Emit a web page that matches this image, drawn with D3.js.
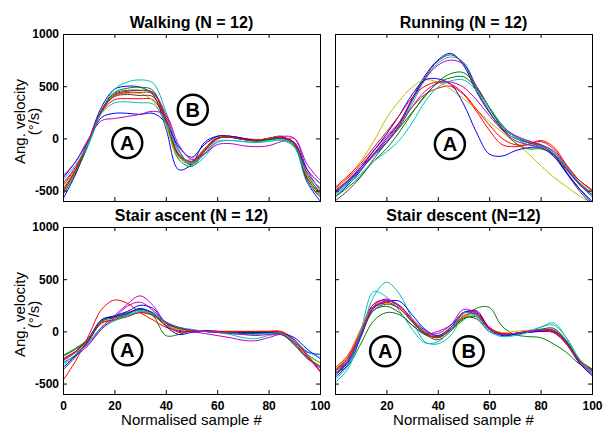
<!DOCTYPE html>
<html>
<head>
<meta charset="utf-8">
<script src="https://cdn.jsdelivr.net/npm/d3@7"></script>
<style>
  body { margin: 0; background: #fff; }
  svg { display: block; font-family: "Liberation Sans", Arial, sans-serif; }
</style>
</head>
<body>
<div id="chart"></div>
<script>
// normalised sample positions (x) shared by every curve
const samples = [0, 5, 10, 15, 20, 25, 30, 35, 40, 45, 50, 55, 60, 65, 70, 75, 80, 85, 90, 95, 100];

// MATLAB default line order, 12 subjects
const lineColours = [
  "#0000ff", "#008000", "#ff0000", "#00bfbf", "#bf00bf", "#bfbf00",
  "#404040", "#0000ff", "#008000", "#ff0000", "#00bfbf", "#bf00bf",
];

const yTicks = [-500, 0, 500, 1000];
const xTicks = [0, 20, 40, 60, 80, 100];

// angular velocity (deg/s), one row per subject
const walking = [
  [-580, -340, -20, 300, 470, 500, 490, 420, 100, -300, -250, -40, 20, 20, 0, -20, 0, 20, -60, -420, -600],
  [-520, -300, -30, 270, 440, 480, 490, 460, 150, -200, -270, -130, 0, 10, -10, -20, 0, 10, -80, -380, -540],
  [-450, -280, -40, 250, 370, 380, 380, 370, 170, -150, -220, -100, 10, 20, 0, -10, -10, 10, -40, -330, -480],
  [-500, -320, -60, 260, 470, 540, 560, 530, 260, -100, -260, -180, -30, -20, -30, -40, -20, -10, -80, -420, -560],
  [-430, -270, -20, 260, 420, 450, 460, 440, 230, -120, -240, -150, -10, 20, 0, -20, 0, 20, 0, -300, -500],
  [-470, -290, -30, 260, 410, 430, 430, 360, 120, -180, -200, -60, 10, 20, -10, -20, 0, 10, -60, -360, -510],
  [-540, -330, -40, 260, 400, 420, 410, 400, 170, -170, -250, -120, 0, 10, -10, -20, -10, 10, -60, -400, -560],
  [-380, -220, -20, 200, 240, 240, 230, 240, 150, -80, -180, -60, 20, 20, 0, -20, -10, 0, -40, -300, -430],
  [-490, -300, -20, 270, 430, 460, 460, 440, 190, -160, -230, -120, 0, 10, -10, -30, -10, 0, -50, -350, -520],
  [-510, -300, -20, 260, 410, 440, 440, 430, 200, -150, -220, -110, 0, 10, -10, -20, 0, 10, -50, -380, -530],
  [-400, -250, -40, 240, 340, 350, 340, 330, 150, -120, -240, -150, -40, -20, -30, -40, -30, -20, -80, -350, -470],
  [-360, -220, 0, 170, 190, 210, 230, 260, 220, -60, -200, -150, -60, -50, -70, -80, -70, -30, 0, -250, -400],
];

const running = [
  [-560, -450, -310, -150, 0, 150, 380, 600, 750, 815, 700, 450, 250, 100, 20, -30, -60, -150, -320, -480, -620],
  [-540, -430, -300, -150, -40, 100, 250, 400, 540, 620, 630, 500, 300, 130, 20, -40, -80, -160, -300, -440, -560],
  [-480, -380, -260, -120, 20, 150, 300, 420, 480, 500, 420, 260, 80, -60, -80, -60, -20, -80, -250, -400, -500],
  [-520, -420, -300, -170, -50, 120, 330, 560, 720, 780, 730, 500, 290, 120, 20, -30, -60, -130, -280, -430, -560],
  [-500, -400, -280, -150, -20, 150, 370, 570, 700, 750, 710, 500, 300, 120, 30, -20, -60, -120, -270, -420, -540],
  [-490, -370, -220, -30, 190, 360, 490, 560, 540, 470, 380, 280, 160, 60, -40, -140, -260, -370, -460, -550, -620],
  [-600, -500, -370, -200, -40, 130, 360, 580, 740, 800, 720, 470, 260, 90, 0, -40, -70, -150, -330, -500, -640],
  [-510, -410, -280, -120, 40, 220, 420, 560, 570, 520, 330, 60, -150, -170, -120, -90, -90, -170, -330, -480, -600],
  [-560, -470, -360, -220, -100, 60, 240, 410, 530, 580, 590, 480, 290, 100, -40, -100, -100, -150, -290, -430, -540],
  [-470, -360, -240, -90, 60, 220, 390, 500, 540, 520, 430, 280, 130, 0, -60, -60, -30, -100, -260, -400, -490],
  [-530, -440, -340, -220, -130, -20, 150, 350, 490, 550, 560, 460, 300, 130, 10, -60, -80, -130, -270, -420, -520],
  [-520, -410, -300, -160, -40, 110, 300, 450, 530, 540, 490, 370, 220, 80, -20, -60, -90, -150, -290, -440, -540],
];

const stairAscent = [
  [-280, -190, -60, 110, 150, 190, 250, 220, 80, 0, 0, 10, 0, -10, -20, -20, -20, -30, -110, -200, -220],
  [-230, -160, -70, 80, 110, 160, 210, 150, -40, -30, 10, 0, 0, 0, 0, 0, 0, -10, -90, -220, -300],
  [-470, -280, -40, 210, 300, 270, 180, 110, 40, 10, 0, 0, 0, -10, -10, -10, 0, 0, -80, -220, -390],
  [-330, -220, -100, 40, 110, 160, 200, 160, 60, 20, 10, 0, -10, -30, -60, -70, -40, -30, -100, -220, -300],
  [-300, -230, -130, 40, 150, 260, 340, 250, 80, 30, 0, -20, -40, -60, -85, -90, -60, -30, -80, -240, -380],
  [-290, -200, -80, 80, 120, 170, 210, 170, 60, 20, 10, 0, -10, -10, -10, -10, -10, -20, -100, -230, -300],
  [-370, -240, -90, 90, 140, 180, 210, 180, 80, 30, 10, 0, 0, -10, -10, -10, -10, -20, -130, -260, -340],
  [-350, -230, -90, 110, 140, 170, 220, 170, 50, -30, -10, 0, -10, -10, -10, -10, -10, -20, -60, -170, -260],
  [-240, -170, -80, 100, 130, 150, 180, 160, 80, 30, 10, 0, -10, -10, -20, -20, -20, -30, -120, -250, -330],
  [-260, -190, -80, 80, 110, 140, 180, 150, 60, -10, 0, 0, 0, 0, 0, 0, 0, -10, -90, -230, -370],
  [-310, -220, -110, 30, 100, 150, 190, 170, 90, 40, 20, 0, -10, -20, -30, -30, -20, -20, -90, -190, -250],
  [-270, -200, -120, 20, 130, 240, 280, 200, 90, 40, 10, 0, -10, -20, -30, -40, -30, -30, -110, -250, -350],
];

const stairDescent = [
  [-420, -300, -20, 260, 300, 240, 120, 10, -50, 30, 180, 160, 20, -30, -20, -10, 0, -10, -120, -300, -420],
  [-400, -330, -120, 100, 180, 160, 60, -30, -50, 20, 110, 220, 230, 50, -30, -50, -60, -120, -200, -310, -380],
  [-350, -230, 20, 260, 300, 250, 120, -10, -60, 20, 170, 200, 40, -20, -20, 0, 0, -10, -120, -290, -360],
  [-490, -360, -40, 330, 470, 360, 120, -100, -120, -40, 140, 160, 20, -40, -30, 0, 40, 80, -60, -270, -400],
  [-380, -260, 0, 240, 310, 240, 100, -20, 0, 60, 180, 180, 40, -20, -20, 0, 10, 10, -100, -280, -380],
  [-360, -250, 20, 230, 270, 230, 120, 0, -40, 30, 140, 150, 30, -10, 0, 10, 20, 20, -90, -290, -370],
  [-400, -280, -30, 200, 240, 180, 60, -30, -80, 0, 130, 120, 0, -30, -20, 0, 20, 30, -90, -280, -370],
  [-440, -320, -60, 220, 280, 290, 160, 20, -40, 40, 180, 190, 30, -40, -30, -10, 0, 0, -100, -300, -420],
  [-380, -280, -40, 200, 260, 220, 90, -20, -60, 20, 120, 140, 20, -30, -20, 0, 10, 10, -90, -270, -360],
  [-370, -250, -10, 230, 280, 220, 100, -10, -60, 20, 150, 170, 30, -20, -20, 0, 10, -10, -110, -280, -370],
  [-460, -330, 0, 380, 330, 200, 20, -110, -100, 10, 180, 140, 0, -50, -40, -10, 40, 60, -60, -260, -390],
  [-410, -290, -30, 230, 290, 250, 110, -10, -20, 60, 210, 170, 20, -30, -20, 0, 10, 10, -110, -290, -400],
];

// circled phase markers, in data coordinates
const walkingNotes = [{ label: "A", x: 25, y: -45 }, { label: "B", x: 50.5, y: 275 }];
const runningNotes = [{ label: "A", x: 44.7, y: -55 }];
const stairAscentNotes = [{ label: "A", x: 25, y: -180 }];
const stairDescentNotes = [{ label: "A", x: 19.5, y: -190 }, { label: "B", x: 52, y: -190 }];

const width = 603;
const height = 427;
const panelW = 257;
const panelH = 167;

const panels = [
  { title: "Walking (N = 12)", series: walking, notes: walkingNotes, left: 63, top: 34, yLabels: true, xLabels: false },
  { title: "Running (N = 12)", series: running, notes: runningNotes, left: 335, top: 34, yLabels: false, xLabels: false },
  { title: "Stair ascent (N = 12)", series: stairAscent, notes: stairAscentNotes, left: 63, top: 227, yLabels: true, xLabels: true },
  { title: "Stair descent (N=12)", series: stairDescent, notes: stairDescentNotes, left: 335, top: 227, yLabels: false, xLabels: true, hideZero: true },
];

const svg = d3
  .select("#chart")
  .append("svg")
  .attr("width", width)
  .attr("height", height);

const desenhaPainel = (p, i) => {
  const x = d3.scaleLinear().domain([0, 100]).range([p.left, p.left + panelW]);
  const y = d3.scaleLinear().domain([-600, 1000]).range([p.top + panelH, p.top]);

  const clipId = "clip-" + i;
  svg
    .append("clipPath")
    .attr("id", clipId)
    .append("rect")
    .attr("x", p.left)
    .attr("y", p.top)
    .attr("width", panelW)
    .attr("height", panelH);

  const line = d3
    .line()
    .x((d, j) => x(samples[j]))
    .y((d) => y(d))
    .curve(d3.curveCatmullRom.alpha(0.5));

  svg
    .append("g")
    .attr("clip-path", `url(#${clipId})`)
    .attr("fill", "none")
    .attr("stroke-width", 1)
    .selectAll("path")
    .data(p.series)
    .enter()
    .append("path")
    .attr("stroke", (d, j) => lineColours[j])
    .attr("d", line);

  // inward ticks on all four sides (box on)
  const axisStyle = (g) => {
    g.select(".domain").remove();
    g.attr("font-family", null).attr("font-size", null).attr("color", "#000");
    g.selectAll("text")
      .attr("font-size", "12px")
      .attr("font-weight", "bold")
      .attr("fill", "#000");
  };

  svg
    .append("g")
    .attr("transform", `translate(${p.left},0)`)
    .call(
      d3.axisLeft(y)
        .tickValues(yTicks)
        .tickSize(-4)
        .tickPadding(4)
        .tickFormat((d) => (p.yLabels ? d : "")),
    )
    .call(axisStyle);

  svg
    .append("g")
    .attr("transform", `translate(${p.left + panelW},0)`)
    .call(d3.axisRight(y).tickValues(yTicks).tickSize(-4).tickFormat(""))
    .call(axisStyle);

  svg
    .append("g")
    .attr("transform", `translate(0,${p.top})`)
    .call(d3.axisTop(x).tickValues(xTicks).tickSize(-4).tickFormat(""))
    .call(axisStyle);

  svg
    .append("g")
    .attr("transform", `translate(0,${p.top + panelH})`)
    .call(
      d3.axisBottom(x)
        .tickValues(xTicks)
        .tickSize(-4)
        .tickPadding(7)
        .tickFormat((d) => {
          if (!p.xLabels) return "";
          if (p.hideZero && d === 0) return "";
          return d;
        }),
    )
    .call(axisStyle);

  svg
    .append("rect")
    .attr("x", p.left + 0.5)
    .attr("y", p.top + 0.5)
    .attr("width", panelW)
    .attr("height", panelH)
    .attr("fill", "none")
    .attr("stroke", "#000")
    .attr("stroke-width", 1);

  svg
    .append("text")
    .attr("x", p.left + panelW / 2)
    .attr("y", p.top - 6)
    .attr("text-anchor", "middle")
    .attr("font-size", "16px")
    .attr("font-weight", "bold")
    .text(p.title);

  if (p.yLabels) {
    const cy = p.top + panelH / 2 + 4;
    const lab = svg
      .append("g")
      .attr("transform", `translate(25,${cy}) rotate(-90)`)
      .attr("text-anchor", "middle")
      .attr("font-size", "15px");
    lab.append("text").attr("x", 0).attr("y", 0).text("Ang. velocity");
    lab.append("text").attr("x", 0).attr("y", 14).text("(°/s)");
  }

  if (p.xLabels) {
    svg
      .append("text")
      .attr("x", p.left + panelW / 2)
      .attr("y", 425)
      .attr("text-anchor", "middle")
      .attr("font-size", "15px")
      .text("Normalised sample #");
  }

  const note = svg
    .append("g")
    .selectAll("g")
    .data(p.notes)
    .enter()
    .append("g")
    .attr("transform", (d) => `translate(${x(d.x)},${y(d.y)})`);

  note
    .append("circle")
    .attr("r", 15)
    .attr("fill", "#fff")
    .attr("stroke", "#000")
    .attr("stroke-width", 2.5);

  note
    .append("text")
    .attr("text-anchor", "middle")
    .attr("dy", "0.36em")
    .attr("font-size", "20px")
    .attr("font-weight", "bold")
    .text((d) => d.label);
};

panels.forEach(desenhaPainel);
</script>
</body>
</html>
